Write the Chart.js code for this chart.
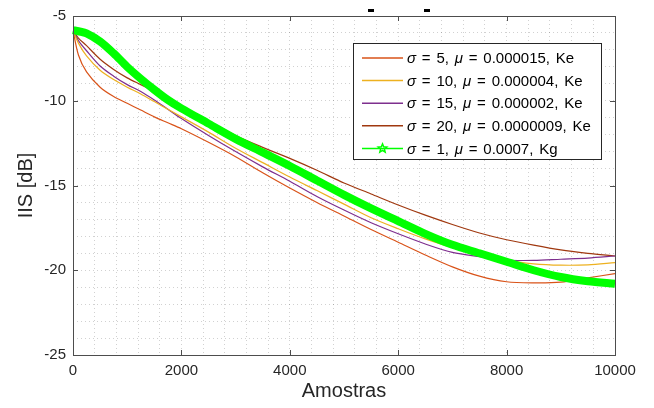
<!DOCTYPE html>
<html lang="pt">
<head>
  <meta charset="UTF-8">
  <title>IIS x Amostras</title>
  <script src="https://cdn.jsdelivr.net/npm/chart.js"></script>
  <style>
    html, body { margin: 0; padding: 0; background: #fff; }
    #chartContainer { width: 654px; height: 408px; }
  </style>
</head>
<body>
  <div id="chartContainer">
    <canvas id="myChart"></canvas>
  </div>

  <script>
    // amostras (eixo x) onde as curvas foram lidas
    const samples = [0, 100, 250, 500, 750, 1000, 1250, 1500, 1750, 2000, 2500, 3000, 3500,
                     4000, 4500, 5000, 5500, 6000, 6500, 7000, 7500, 8000, 8500, 9000, 9500, 10000];

    // IIS [dB] de cada curva
    const iisS5  = [-5.85, -7.3, -8.3, -9.2, -9.75, -10.15, -10.55, -10.95, -11.3, -11.65, -12.45, -13.3, -14.25,
                    -15.15, -16.0, -16.8, -17.6, -18.35, -19.1, -19.8, -20.35, -20.68, -20.74, -20.7, -20.45, -20.2];
    const iisS10 = [-5.85, -6.6, -7.35, -8.2, -8.75, -9.2, -9.6, -10.05, -10.5, -10.95, -11.85, -12.8, -13.65,
                    -14.5, -15.3, -16.1, -16.9, -17.55, -18.15, -18.65, -19.0, -19.4, -19.62, -19.7, -19.68, -19.55];
    const iisS15 = [-5.85, -6.45, -7.05, -7.95, -8.55, -9.05, -9.45, -9.95, -10.5, -11.05, -12.05, -13.0, -13.9,
                    -14.75, -15.65, -16.45, -17.2, -17.85, -18.45, -18.95, -19.2, -19.4, -19.42, -19.35, -19.28, -19.16];
    const iisS20 = [-5.85, -6.3, -6.75, -7.55, -8.15, -8.65, -9.05, -9.45, -9.85, -10.3, -11.2, -12.05, -12.75,
                    -13.4, -14.1, -14.85, -15.5, -16.15, -16.75, -17.3, -17.8, -18.2, -18.52, -18.8, -19.0, -19.16];
    const iisKg  = [-5.83, -5.9, -6.02, -6.5, -7.2, -8.0, -8.7, -9.35, -9.95, -10.45, -11.35, -12.25, -13.05,
                    -13.85, -14.7, -15.55, -16.35, -17.1, -17.85, -18.5, -19.0, -19.5, -20.0, -20.4, -20.65, -20.8];

    // legenda
    const sigmas = ['5', '10', '15', '20', '1'];
    const mus = ['0.000015', '0.000004', '0.000002', '0.0000009', '0.0007'];
    const kinds = ['Ke', 'Ke', 'Ke', 'Ke', 'Kg'];
    const colors = ['#D95319', '#EDB120', '#7E2F8E', '#A0380F', '#00FF00'];
    const series = [iisS5, iisS10, iisS15, iisS20, iisKg];

    const FONT = '"Liberation Sans", Arial, Helvetica, sans-serif';

    const datasets = series.map((vals, i) => ({
      label: `σ = ${sigmas[i]}, μ = ${mus[i]}, ${kinds[i]}`,
      data: vals.map((v, j) => ({ x: samples[j], y: v })),
      borderColor: colors[i],
      backgroundColor: colors[i],
      borderWidth: i === 4 ? 8 : 1.2,
      pointRadius: 0,
      tension: 0.3,
      fill: false,
      order: i === 4 ? 0 : i + 1,
      clip: i === 4 ? false : 0
    }));

    // caixa, marcas internas e legenda no estilo MATLAB
    const matlabAxes = {
      id: 'matlabAxes',
      afterDatasetsDraw(chart) {
        const { ctx, chartArea: a, scales: { x, y } } = chart;
        ctx.save();
        ctx.strokeStyle = '#4d4d4d';
        ctx.lineWidth = 1;
        ctx.strokeRect(a.left + 0.5, a.top + 0.5, a.right - a.left, a.bottom - a.top);
        ctx.beginPath();
        for (let v = 0; v <= 10000; v += 2000) {
          const px = Math.round(x.getPixelForValue(v)) + 0.5;
          ctx.moveTo(px, a.bottom); ctx.lineTo(px, a.bottom - 5);
          ctx.moveTo(px, a.top); ctx.lineTo(px, a.top + 5);
        }
        for (let v = -25; v <= -5; v += 5) {
          const py = Math.round(y.getPixelForValue(v)) + 0.5;
          ctx.moveTo(a.left, py); ctx.lineTo(a.left + 5, py);
          ctx.moveTo(a.right, py); ctx.lineTo(a.right - 5, py);
        }
        ctx.stroke();

        // legenda
        const x0 = 353, y0 = 43, rowH = 22.6, w = 248, h = 116, spaceW = 5.8;
        ctx.fillStyle = '#fff';
        ctx.fillRect(x0, y0, w, h);
        ctx.strokeStyle = '#262626';
        ctx.strokeRect(x0 + 0.5, y0 + 0.5, w, h);
        ctx.textBaseline = 'middle';
        chart.data.datasets.forEach((ds, i) => {
          const cy = y0 + 15 + i * rowH;
          ctx.strokeStyle = ds.borderColor;
          ctx.lineWidth = 1.5;
          ctx.beginPath();
          ctx.moveTo(x0 + 9, cy); ctx.lineTo(x0 + 50, cy);
          ctx.stroke();
          if (i === 4) {
            // estrela do marcador
            const sx = x0 + 29.5, r1 = 4.5, r2 = 2;
            ctx.beginPath();
            for (let k = 0; k < 10; k++) {
              const r = k % 2 === 0 ? r1 : r2;
              const ang = -Math.PI / 2 + k * Math.PI / 5;
              const px = sx + r * Math.cos(ang), py = cy + r * Math.sin(ang);
              k === 0 ? ctx.moveTo(px, py) : ctx.lineTo(px, py);
            }
            ctx.closePath();
            ctx.stroke();
          }
          // texto com σ e μ em itálico, espaços um pouco mais largos (TeX)
          let tx = x0 + 54;
          ctx.fillStyle = '#000';
          for (const word of ds.label.split(' ')) {
            ctx.font = (word === 'σ' || word === 'μ' ? 'italic ' : '') + '15px ' + FONT;
            ctx.fillText(word, tx, cy + 1);
            tx += ctx.measureText(word).width + spaceW;
          }
        });

        // restos do título cortado
        ctx.fillStyle = '#000';
        ctx.fillRect(368, 9, 6, 3);
        ctx.fillRect(424, 9, 6, 3);
        ctx.restore();
      }
    };

    const ctx = document.getElementById('myChart').getContext('2d');
    const myChart = new Chart(ctx, {
      type: 'line',
      data: { datasets: datasets },
      plugins: [matlabAxes],
      options: {
        responsive: true,
        maintainAspectRatio: false,
        animation: false,
        layout: { padding: { top: 16, right: 39, left: 0, bottom: 0 } },
        plugins: {
          legend: { display: false },
          tooltip: { enabled: false }
        },
        scales: {
          x: {
            type: 'linear',
            min: 0,
            max: 10000,
            afterFit: s => { s.height = 53; },
            ticks: {
              stepSize: 400,
              autoSkip: false,
              maxRotation: 0,
              padding: 7,
              color: '#262626',
              font: { family: FONT, size: 15 },
              callback: v => (v % 2000 === 0 ? v : '')
            },
            grid: { color: 'rgba(0,0,0,0.18)', lineWidth: 1, drawTicks: false },
            border: { display: false, dash: [1, 3] },
            title: {
              display: true,
              text: 'Amostras',
              color: '#262626',
              font: { family: FONT, size: 20 },
              padding: { top: 0, bottom: 5 }
            }
          },
          y: {
            min: -25,
            max: -5,
            afterFit: s => { s.width = 73; },
            ticks: {
              stepSize: 1,
              autoSkip: false,
              padding: 7,
              color: '#262626',
              font: { family: FONT, size: 15 },
              callback: v => (v % 5 === 0 ? v : '')
            },
            grid: { color: 'rgba(0,0,0,0.18)', lineWidth: 1, drawTicks: false },
            border: { display: false, dash: [1, 3] },
            title: {
              display: true,
              text: 'IIS [dB]',
              color: '#262626',
              font: { family: FONT, size: 20 },
              padding: { top: 14, bottom: 0 }
            }
          }
        }
      }
    });
  </script>
</body>
</html>
